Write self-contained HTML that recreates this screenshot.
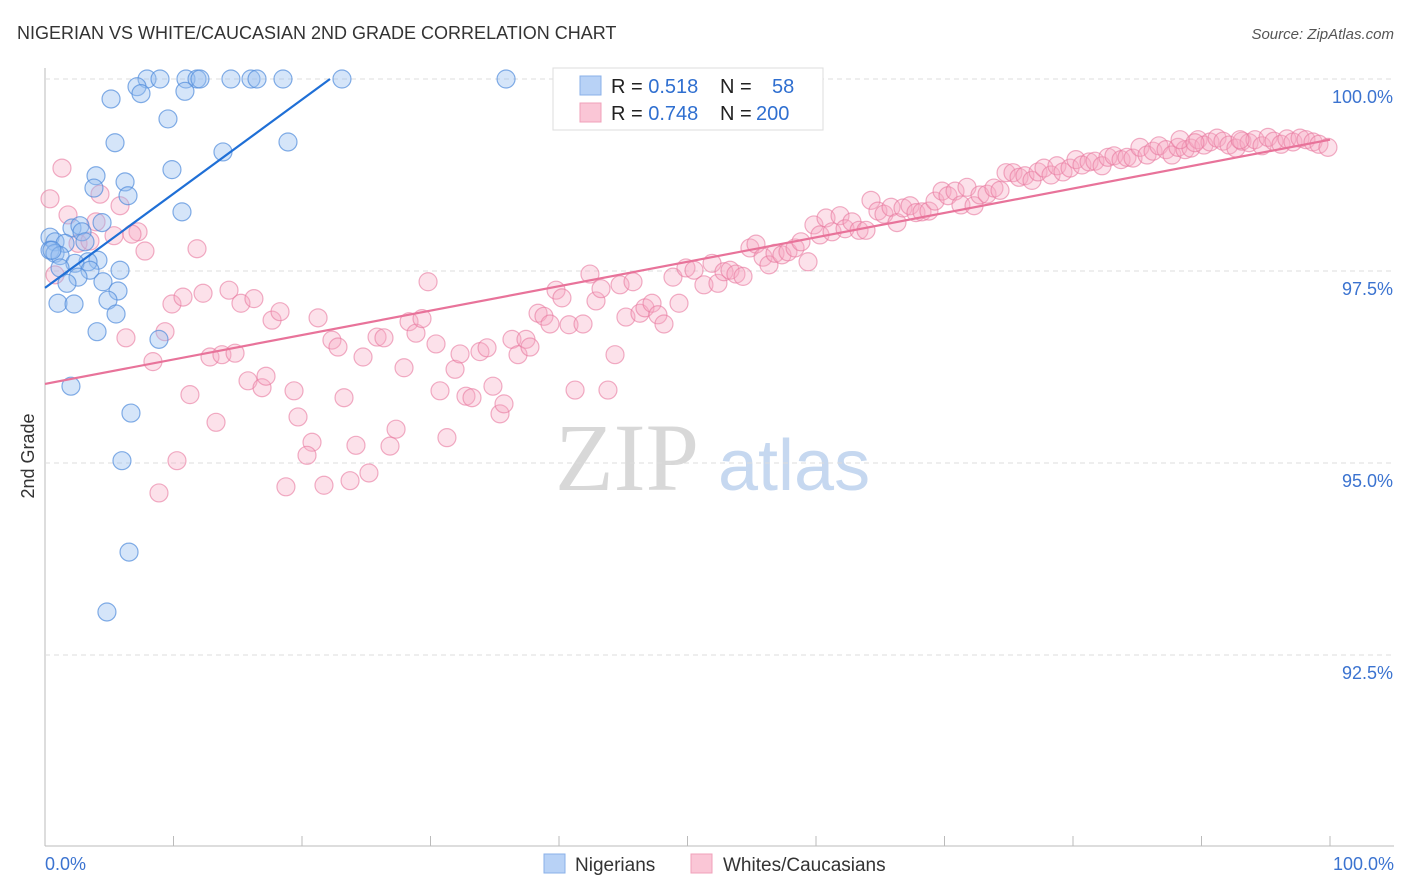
<!DOCTYPE html>
<html><head><meta charset="utf-8"><style>
body{margin:0;background:#fff;font-family:"Liberation Sans",sans-serif;}
#wrap{position:relative;width:1406px;height:892px;overflow:hidden}
svg{position:absolute;left:0;top:0}
</style></head><body>
<div id="wrap">
<svg id="chart" width="1406" height="892">
<text x="17" y="39" font-size="18" fill="#333">NIGERIAN VS WHITE/CAUCASIAN 2ND GRADE CORRELATION CHART</text>
<text x="1394" y="39" font-size="15" fill="#555" font-style="italic" text-anchor="end">Source: ZipAtlas.com</text>
<text x="34" y="456" font-size="18" fill="#333" transform="rotate(-90 34 456)" text-anchor="middle">2nd Grade</text>
<text x="555" y="490" font-size="96" fill="#d8d8d8" font-family="Liberation Serif,serif">ZIP</text>
<text x="718" y="490" font-size="72" fill="#c6d8f0">atlas</text>
<g id="grid"></g><g id="pts"></g><g id="lines"></g>
<g>
<rect x="553" y="68" width="270" height="62" fill="#fff" stroke="#ddd"/>
<rect x="580" y="76" width="21" height="19" fill="#b8d2f6" stroke="#8ab0e8"/>
<rect x="580" y="103" width="21" height="19" fill="#fac6d6" stroke="#f0a0ba"/>
<text font-size="20" fill="#222" x="611" y="93">R = <tspan fill="#2f6fd0">0.518</tspan><tspan x="720">N =</tspan><tspan x="772" fill="#2f6fd0">58</tspan></text>
<text font-size="20" fill="#222" x="611" y="120">R = <tspan fill="#2f6fd0">0.748</tspan><tspan x="720">N =</tspan><tspan x="756" fill="#2f6fd0">200</tspan></text>
</g>
<g>
<rect x="544" y="854" width="21" height="19" fill="#b8d2f6" stroke="#8ab0e8"/>
<text x="575" y="871" font-size="19" fill="#333">Nigerians</text>
<rect x="691" y="854" width="21" height="19" fill="#fac6d6" stroke="#f0a0ba"/>
<text x="723" y="871" font-size="19" fill="#333">Whites/Caucasians</text>
</g>
<text x="45" y="870" font-size="18" fill="#3b73d0">0.0%</text>
<text x="1394" y="870" font-size="18" fill="#3b73d0" text-anchor="end">100.0%</text>
</svg></div>
<script>
const blueX=[7.94,8.95,10.97,11.83,12.06,14.47,16.03,16.50,18.52,23.11,35.88,7.16,7.47,10.89,5.14,9.57,5.45,13.85,18.91,9.88,3.97,6.23,3.81,6.46,10.66,4.44,2.10,2.72,0.39,2.88,0.78,1.56,3.11,0.39,0.78,1.17,4.12,3.35,2.33,5.84,3.50,1.17,2.57,4.51,1.71,5.68,4.90,1.01,2.26,5.53,4.05,8.87,2.02,6.69,5.99,6.54,4.82,0.54];
const blueY=[100,100,100,100,100,100,100,100,100,100,100,99.90,99.81,99.84,99.74,99.48,99.17,99.05,99.18,98.82,98.74,98.66,98.58,98.48,98.27,98.13,98.06,98.09,97.94,98.01,97.88,97.86,97.88,97.77,97.73,97.70,97.64,97.62,97.60,97.51,97.51,97.54,97.42,97.36,97.34,97.24,97.12,97.08,97.07,96.94,96.71,96.61,96.00,95.65,95.03,93.84,93.06,97.77];
const pinkX=[1.32,0.39,1.79,4.28,5.84,3.97,0.78,2.57,3.50,5.37,7.24,6.77,7.78,6.30,8.40,9.34,9.88,10.74,11.83,12.30,11.28,10.27,8.87,13.31,12.84,13.77,14.79,14.32,15.25,16.26,15.80,16.89,17.20,17.67,18.29,19.38,19.69,20.78,20.39,18.75,21.25,21.71,22.33,22.80,23.27,23.74,24.20,24.75,25.21,25.84,26.38,26.85,27.32,27.94,28.33,28.87,29.34,29.81,30.43,30.74,31.28,31.91,32.30,32.76,33.23,33.85,34.40,34.86,35.41,35.72,36.34,36.81,37.43,37.74,38.37,38.83,39.30,39.77,40.23,40.78,41.25,41.87,42.88,42.41,43.27,43.81,44.36,44.75,45.21,45.76,46.30,46.69,47.24,47.70,48.17,48.87,49.34,49.88,50.51,51.28,51.91,52.37,52.84,53.31,53.77,54.32,54.86,55.33,55.88,56.34,56.81,57.35,57.82,58.37,58.83,59.38,59.84,60.31,60.78,61.25,61.87,62.26,62.80,63.35,63.89,64.28,64.82,65.29,65.84,66.30,66.77,67.32,67.78,68.25,68.79,69.26,69.81,70.27,70.82,71.28,71.75,72.30,72.76,73.31,73.85,74.32,74.79,75.33,75.80,76.26,76.81,77.28,77.74,78.29,78.75,79.22,79.77,80.23,80.70,81.25,81.71,82.26,82.72,83.19,83.74,84.20,84.67,85.21,85.76,86.23,86.69,87.24,87.70,88.17,88.72,89.18,89.73,90.19,90.66,91.21,91.67,92.14,92.68,93.15,93.70,94.16,94.71,95.18,95.64,96.19,96.65,97.12,97.67,98.13,98.68,99.14,99.84,88.33,89.49,93.00];
const pinkY=[98.84,98.44,98.23,98.50,98.35,98.14,97.45,97.86,97.89,97.96,98.01,97.98,97.76,96.63,96.32,96.71,97.07,97.16,97.79,97.21,95.89,95.03,94.61,95.53,96.38,96.41,96.43,97.25,97.08,97.14,96.07,95.98,96.13,96.86,96.97,95.94,95.60,95.27,95.10,94.69,96.89,94.71,96.60,96.51,95.85,94.77,95.23,96.38,94.87,96.64,96.63,95.22,95.44,96.24,96.84,96.69,96.88,97.36,96.55,95.94,95.33,96.22,96.42,95.87,95.85,96.45,96.50,96.00,95.64,95.77,96.61,96.41,96.61,96.51,96.95,96.91,96.81,97.25,97.15,96.80,95.95,96.81,97.11,97.46,97.27,95.95,96.41,97.32,96.90,97.36,96.95,97.02,97.08,96.93,96.81,97.42,97.08,97.54,97.51,97.32,97.60,97.34,97.49,97.51,97.46,97.43,97.80,97.85,97.68,97.58,97.73,97.71,97.75,97.80,97.88,97.62,98.10,97.97,98.19,98.01,98.22,98.05,98.14,98.03,98.03,98.42,98.28,98.24,98.33,98.13,98.32,98.35,98.26,98.27,98.28,98.41,98.54,98.48,98.54,98.36,98.59,98.35,98.49,98.50,98.58,98.55,98.78,98.78,98.72,98.74,98.68,98.79,98.84,98.75,98.87,98.79,98.84,98.95,98.88,98.92,98.93,98.87,98.98,99.00,98.95,98.98,98.97,99.11,99.01,99.06,99.13,99.08,99.01,99.11,99.08,99.10,99.21,99.14,99.18,99.23,99.19,99.14,99.10,99.19,99.17,99.21,99.13,99.24,99.19,99.15,99.22,99.18,99.23,99.21,99.18,99.15,99.11,99.21,99.17,99.21];
const yTicks=[100,97.5,95,92.5];
const yTickLabels=["100.0%","97.5%","95.0%","92.5%"];
const blueLine=[[0,97.28],[22.18,100]];
const pinkLine=[[0,96.03],[100,99.21]];
const NS='http://www.w3.org/2000/svg';
const sx=v=>45+v*12.85, sy=v=>79+(100-v)*76.8;
function mk(t,a,p){const e=document.createElementNS(NS,t);for(const k in a)e.setAttribute(k,a[k]);p.appendChild(e);return e;}
const grid=document.getElementById('grid');
mk('line',{x1:45,y1:68,x2:45,y2:846,stroke:'#bbb'},grid);
mk('line',{x1:45,y1:846,x2:1394,y2:846,stroke:'#bbb'},grid);
for(let i=0;i<=10;i++){const l=mk('line',{x1:sx(i*10),x2:sx(i*10),y1:836,y2:846,stroke:'#bbb'},grid);}
yTicks.forEach((v,i)=>{const l=mk('line',{x1:45,x2:1394,y1:sy(v),y2:sy(v),stroke:'#ddd','stroke-dasharray':'5,4'},grid);

const t=mk('text',{x:1393,y:sy(v)+24,'font-size':18,fill:'#3b73d0','text-anchor':'end'},grid);t.textContent=yTickLabels[i];
});
const pts=document.getElementById('pts');
pinkX.forEach((x,i)=>{const c=mk('circle',{cx:sx(x),cy:sy(pinkY[i]),r:9,fill:'rgba(246,170,196,0.35)',stroke:'rgba(232,120,158,0.6)','stroke-width':1.2},pts);
});
blueX.forEach((x,i)=>{const c=mk('circle',{cx:sx(x),cy:sy(blueY[i]),r:9,fill:'rgba(150,190,240,0.4)',stroke:'rgba(80,140,220,0.7)','stroke-width':1.2},pts);
});
const lines=document.getElementById('lines');
const bl=mk('line',{x1:sx(blueLine[0][0]),y1:sy(blueLine[0][1]),x2:sx(blueLine[1][0]),y2:sy(blueLine[1][1]),stroke:'#1f6fd6','stroke-width':2.2},lines);

const pl=mk('line',{x1:sx(pinkLine[0][0]),y1:sy(pinkLine[0][1]),x2:sx(pinkLine[1][0]),y2:sy(pinkLine[1][1]),stroke:'#e8739a','stroke-width':2.2},lines);

</script></body></html>
